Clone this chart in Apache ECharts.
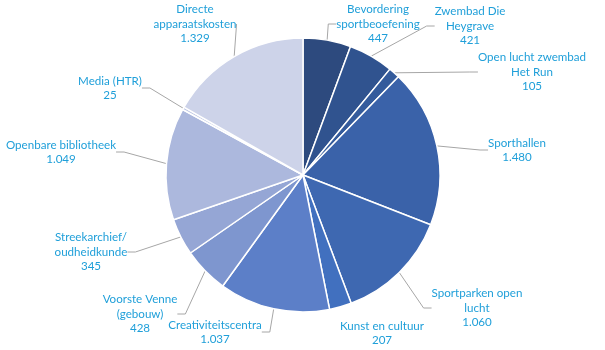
<!DOCTYPE html>
<html>
<head>
<meta charset="utf-8">
<script src="https://cdn.jsdelivr.net/npm/echarts@6/dist/echarts.min.js"></script>
<style>
  html, body { margin: 0; padding: 0; background: #fff; }
  #chart { width: 605px; height: 350px; }
</style>
</head>
<body>
<div id="chart"></div>
<script>
// Begroting per post (x € 1.000)
const categories = [
  'Bevordering\nsportbeoefening',
  'Zwembad Die\nHeygrave',
  'Open lucht zwembad\nHet Run',
  'Sporthallen',
  'Sportparken open\nlucht',
  'Kunst en cultuur',
  'Creativiteitscentra',
  'Voorste Venne\n(gebouw)',
  'Streekarchief/\noudheidkunde',
  'Openbare bibliotheek',
  'Media (HTR)',
  'Directe\napparaatskosten'
];
const values = [447, 421, 105, 1480, 1060, 207, 1037, 428, 345, 1049, 25, 1329];

// Slice colours, dark to light
const colors = [
  '#2D4A7E', '#30538F', '#345B9C', '#3A62A9', '#3E68B1', '#4170BF',
  '#5C7FC8', '#7E96CF', '#95A6D5', '#ACB8DD', '#BCC5E3', '#CDD3E9'
];

// Label block centres
const labelPos = [
  [378, 24], [470, 26], [532, 72], [517, 150], [477, 308], [382, 333],
  [215, 332], [140, 314], [91, 252], [61, 152], [110, 88], [195, 24]
];

function nl(v) {
  return String(v).replace(/\B(?=(\d{3})+(?!\d))/g, '.');
}

const chart = echarts.init(document.getElementById('chart'));
chart.setOption({
  animation: false,
  series: [{
    type: 'pie',
    center: [303, 175],
    radius: [0, 137],
    startAngle: 90,
    clockwise: true,
    avoidLabelOverlap: false,
    itemStyle: { borderColor: '#ffffff', borderWidth: 1.5 },
    label: {
      show: true,
      color: '#1F9FD9',
      fontFamily: 'Lato',
      fontSize: 11.6,
      lineHeight: 14.5,
      align: 'center',
      formatter: p => p.name + '\n' + nl(p.value)
    },
    labelLine: {
      show: true,
      length: 10,
      length2: 8,
      lineStyle: { color: '#A6A6A6', width: 1 }
    },
    labelLayout: params => {
      const pos = labelPos[params.dataIndex];
      return { x: pos[0], y: pos[1], align: 'center', verticalAlign: 'middle' };
    },
    data: categories.map((c, i) => ({
      name: c,
      value: values[i],
      itemStyle: { color: colors[i] },
      labelLine: i === 5 ? { show: false } : undefined
    }))
  }]
});
</script>
</body>
</html>
